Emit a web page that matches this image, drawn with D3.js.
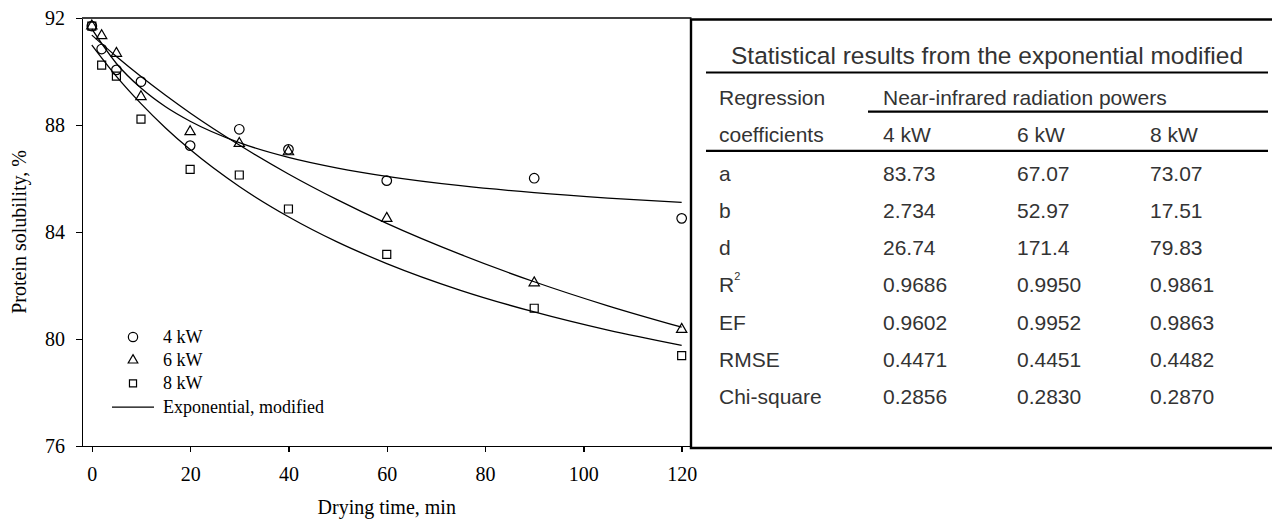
<!DOCTYPE html>
<html>
<head>
	<meta charset="utf-8">
	<title>Protein solubility vs drying time</title>
	<script src="https://d3js.org/d3.v7.min.js"></script>
	<style>
		body { margin: 0; background: #fff; }
		.axis path, .axis line {
			stroke: #000;
			stroke-width: 1.4px;
			shape-rendering: crispEdges;
		}
		.axis text {
			font-family: "Liberation Serif", "Times New Roman", serif;
			font-size: 20px;
			fill: #000;
		}
		.serif { font-family: "Liberation Serif", "Times New Roman", serif; fill: #000; }
		.sans { font-family: "Liberation Sans", Arial, sans-serif; fill: #333; }
		.marker { fill: none; stroke: #000; stroke-width: 1.2px; }
		.fit { fill: none; stroke: #000; stroke-width: 1.3px; }
	</style>
</head>
<body>
<svg id="chart"></svg>
<script>
// measured points
var times = [0, 2, 5, 10, 20, 30, 40, 60, 90, 120];
var p4kW = [91.70, 90.84, 90.06, 89.62, 87.23, 87.84, 87.09, 85.92, 86.01, 84.51];
var p6kW = [91.70, 91.34, 90.68, 89.06, 87.75, 87.31, 87.00, 84.51, 82.10, 80.36];
var p8kW = [91.70, 90.24, 89.83, 88.22, 86.34, 86.13, 84.86, 83.16, 81.15, 79.38];

// fitted curves
var fitTimes = [0, 5, 10, 15, 20, 30, 40, 50, 60, 75, 90, 105, 120];
var fit4kW = [91.59, 90.30, 89.38, 88.68, 88.14, 87.34, 86.79, 86.39, 86.08, 85.73, 85.47, 85.27, 85.11];
var fit6kW = [91.36, 90.56, 89.81, 89.11, 88.45, 87.25, 86.17, 85.20, 84.32, 83.16, 82.14, 81.24, 80.44];
var fit8kW = [90.99, 89.82, 88.80, 87.89, 87.08, 85.70, 84.57, 83.62, 82.82, 81.82, 81.01, 80.33, 79.76];

var xTicks = [0, 20, 40, 60, 80, 100, 120];
var yTicks = [76, 80, 84, 88, 92];
var seriesNames = ['4 kW', '6 kW', '8 kW'];

// table
var tableTitle = 'Statistical results from the exponential modified';
var coefNames = ['a', 'b', 'd', 'R', 'EF', 'RMSE', 'Chi-square'];
var coef4kW = ['83.73', '2.734', '26.74', '0.9686', '0.9602', '0.4471', '0.2856'];
var coef6kW = ['67.07', '52.97', '171.4', '0.9950', '0.9952', '0.4451', '0.2830'];
var coef8kW = ['73.07', '17.51', '79.83', '0.9861', '0.9863', '0.4482', '0.2870'];

(function () {
	var _svg = d3.select('#chart')
			.attr('width', 1272)
			.attr('height', 520),
		_x = d3.scaleLinear([-2, 122], [82, 691.5]),
		_y = d3.scaleLinear([76, 92], [446, 18]),
		_symbols = [d3.symbolCircle, d3.symbolTriangle, d3.symbolSquare],
		_sizes = [72, 46, 64],
		_points = [p4kW, p6kW, p8kW],
		_fits = [fit4kW, fit6kW, fit8kW];

	// top frame line
	_svg.append('line')
		.attr('x1', _x(-2)).attr('x2', _x(122))
		.attr('y1', _y(92)).attr('y2', _y(92))
		.attr('stroke', '#000').attr('stroke-width', 1.4);

	// X axis
	_svg.append('g')
		.attr('class', 'x axis')
		.attr('transform', 'translate(0,' + _y(76) + ')')
		.call(d3.axisBottom(_x).tickValues(xTicks).tickSize(6).tickSizeOuter(0).tickPadding(15));

	// Y axis
	_svg.append('g')
		.attr('class', 'y axis')
		.attr('transform', 'translate(' + _x(-2) + ',0)')
		.call(d3.axisLeft(_y).tickValues(yTicks).tickSize(6).tickSizeOuter(0).tickPadding(11));

	// axis titles
	_svg.append('text')
		.attr('class', 'serif')
		.attr('text-anchor', 'middle')
		.attr('x', (_x(-2) + _x(122)) / 2)
		.attr('y', 514)
		.style('font-size', '20px')
		.text('Drying time, min');

	_svg.append('text')
		.attr('class', 'serif')
		.attr('text-anchor', 'middle')
		.attr('transform', 'translate(26,' + (_y(84)) + ') rotate(-90)')
		.style('font-size', '20px')
		.text('Protein solubility, %');

	// fitted curves
	var line = d3.line()
		.x(function (d) { return _x(d[0]); })
		.y(function (d) { return _y(d[1]); })
		.curve(d3.curveMonotoneX);

	_fits.forEach(function (f) {
		_svg.append('path')
			.attr('class', 'fit')
			.attr('d', line(fitTimes.map(function (t, i) { return [t, f[i]]; })));
	});

	// markers
	_points.forEach(function (p, k) {
		_svg.append('g')
			.selectAll('path')
			.data(times)
			.enter()
			.append('path')
				.attr('class', 'marker')
				.attr('transform', function (t, i) { return 'translate(' + _x(t) + ',' + _y(p[i]) + ')'; })
				.attr('d', d3.symbol().type(_symbols[k]).size(_sizes[k]));
	});

	// legend
	var lg = _svg.append('g').attr('transform', 'translate(133,337)');
	seriesNames.forEach(function (n, k) {
		lg.append('path')
			.attr('class', 'marker')
			.attr('transform', 'translate(0,' + (k * 23.2) + ')')
			.attr('d', d3.symbol().type(_symbols[k]).size([68, 40, 50][k]));
		lg.append('text')
			.attr('class', 'serif')
			.attr('x', 30)
			.attr('y', k * 23.2 + 6)
			.style('font-size', '18px')
			.text(n);
	});
	lg.append('line')
		.attr('x1', -21).attr('x2', 21)
		.attr('y1', 3 * 23.2 + 0.5).attr('y2', 3 * 23.2 + 0.5)
		.attr('stroke', '#000').attr('stroke-width', 1.2);
	lg.append('text')
		.attr('class', 'serif')
		.attr('x', 30)
		.attr('y', 3 * 23.2 + 6)
		.style('font-size', '18px')
		.text('Exponential, modified');

	// table box
	var tb = _svg.append('g');
	tb.append('path')
		.attr('d', 'M1275,19.5 H691 V448 H1275')
		.attr('fill', 'none')
		.attr('stroke', '#000')
		.attr('stroke-width', 2.4);

	var cols = [719, 883, 1017, 1150],
		rowY = function (i) { return 180.7 + i * 37.2; };

	tb.append('text')
		.attr('class', 'sans')
		.attr('text-anchor', 'middle')
		.attr('x', 987)
		.attr('y', 63.5)
		.style('font-size', '24.5px')
		.text(tableTitle);

	// rules
	[[706, 72.5], [868, 111.7], [706, 150.8]].forEach(function (r) {
		tb.append('line')
			.attr('x1', r[0]).attr('x2', 1268)
			.attr('y1', r[1]).attr('y2', r[1])
			.attr('stroke', '#000').attr('stroke-width', 2.2);
	});

	tb.append('text').attr('class', 'sans').attr('x', cols[0]).attr('y', 105)
		.style('font-size', '21px').text('Regression');
	tb.append('text').attr('class', 'sans').attr('x', cols[1]).attr('y', 105)
		.style('font-size', '21px').text('Near-infrared radiation powers');
	tb.append('text').attr('class', 'sans').attr('x', cols[0]).attr('y', 141.7)
		.style('font-size', '21px').text('coefficients');
	seriesNames.forEach(function (n, k) {
		tb.append('text').attr('class', 'sans').attr('x', cols[k + 1]).attr('y', 141.7)
			.style('font-size', '21px').text(n);
	});

	coefNames.forEach(function (n, i) {
		var t = tb.append('text').attr('class', 'sans').attr('x', cols[0]).attr('y', rowY(i))
			.style('font-size', '21px').text(n);
		if (n === 'R') {
			t.append('tspan').attr('dy', -12).style('font-size', '11px').text('2');
		}
		[coef4kW, coef6kW, coef8kW].forEach(function (c, k) {
			tb.append('text').attr('class', 'sans').attr('x', cols[k + 1]).attr('y', rowY(i))
				.style('font-size', '21px').text(c[i]);
		});
	});
}());
</script>
</body>
</html>
